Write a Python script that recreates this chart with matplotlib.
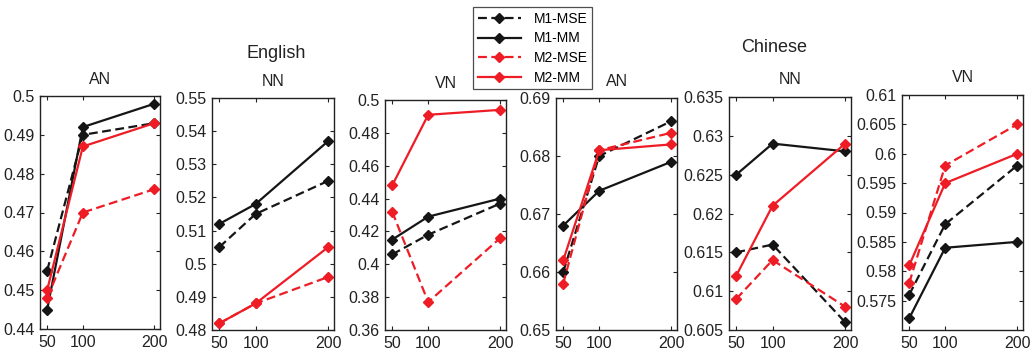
import matplotlib
matplotlib.use("Agg")
import matplotlib.pyplot as plt

plt.rcParams['font.family'] = ['Liberation Sans', 'DejaVu Sans']

x_vals = [50, 100, 200]
series_labels = ["M1-MSE", "M1-MM", "M2-MSE", "M2-MM"]
panel_titles = ["AN", "NN", "VN", "AN", "NN", "VN"]
group_titles = ["English", "Chinese"]

# English
en_an = {"M1-MSE": [0.455, 0.490, 0.493], "M1-MM": [0.445, 0.492, 0.498],
         "M2-MSE": [0.448, 0.470, 0.476], "M2-MM": [0.450, 0.487, 0.493]}
en_nn = {"M1-MSE": [0.505, 0.515, 0.525], "M1-MM": [0.512, 0.518, 0.537],
         "M2-MSE": [0.482, 0.488, 0.496], "M2-MM": [0.482, 0.488, 0.505]}
en_vn = {"M1-MSE": [0.406, 0.418, 0.437], "M1-MM": [0.415, 0.429, 0.440],
         "M2-MSE": [0.432, 0.377, 0.416], "M2-MM": [0.448, 0.491, 0.494]}
# Chinese
zh_an = {"M1-MSE": [0.660, 0.680, 0.686], "M1-MM": [0.668, 0.674, 0.679],
         "M2-MSE": [0.658, 0.681, 0.684], "M2-MM": [0.662, 0.681, 0.682]}
zh_nn = {"M1-MSE": [0.615, 0.616, 0.606], "M1-MM": [0.625, 0.629, 0.628],
         "M2-MSE": [0.609, 0.614, 0.608], "M2-MM": [0.612, 0.621, 0.629]}
zh_vn = {"M1-MSE": [0.576, 0.588, 0.598], "M1-MM": [0.572, 0.584, 0.585],
         "M2-MSE": [0.578, 0.598, 0.605], "M2-MM": [0.581, 0.595, 0.600]}

panels = [en_an, en_nn, en_vn, zh_an, zh_nn, zh_vn]
ylims = [(0.44, 0.50), (0.48, 0.55), (0.36, 0.50), (0.65, 0.69), (0.605, 0.635), (0.57, 0.61)]
yticks = [
    [0.44, 0.45, 0.46, 0.47, 0.48, 0.49, 0.50],
    [0.48, 0.49, 0.50, 0.51, 0.52, 0.53, 0.54, 0.55],
    [0.36, 0.38, 0.40, 0.42, 0.44, 0.46, 0.48, 0.50],
    [0.65, 0.66, 0.67, 0.68, 0.69],
    [0.605, 0.61, 0.615, 0.62, 0.625, 0.63, 0.635],
    [0.575, 0.58, 0.585, 0.59, 0.595, 0.60, 0.605, 0.61],
]
ytick_labels = [
    ["0.44", "0.45", "0.46", "0.47", "0.48", "0.49", "0.5"],
    ["0.48", "0.49", "0.5", "0.51", "0.52", "0.53", "0.54", "0.55"],
    ["0.36", "0.38", "0.4", "0.42", "0.44", "0.46", "0.48", "0.5"],
    ["0.65", "0.66", "0.67", "0.68", "0.69"],
    ["0.605", "0.61", "0.615", "0.62", "0.625", "0.63", "0.635"],
    ["0.575", "0.58", "0.585", "0.59", "0.595", "0.6", "0.605", "0.61"],
]

styles = {
    "M1-MSE": dict(color="#151515", linestyle=(0, (4, 2))),
    "M1-MM": dict(color="#151515", linestyle="-"),
    "M2-MSE": dict(color="#ee1c25", linestyle=(0, (4, 2))),
    "M2-MM": dict(color="#ee1c25", linestyle="-"),
}

W, H = 1036, 356
# pixel boxes (left, right, top, bottom)
boxes = [(40, 160, 96, 329), (212, 334, 98, 330), (385, 506, 100, 330),
         (556, 677, 98, 330), (729, 851, 97, 330), (902, 1023, 95, 330)]

fig = plt.figure(figsize=(W / 100, H / 100), dpi=100)
axes = []
for i, (l, r, t, b) in enumerate(boxes):
    ax = fig.add_axes([l / W, 1 - b / H, (r - l) / W, (b - t) / H])
    axes.append(ax)
    data = panels[i]
    for name in series_labels:
        ax.plot(x_vals, data[name], marker="D", markersize=5.5, linewidth=1.6,
                label=name, **styles[name])
    ax.set_xlim(40, 208)
    ax.set_ylim(*ylims[i])
    ax.set_xticks(x_vals)
    ax.set_xticklabels([str(v) for v in x_vals])
    ax.set_yticks(yticks[i])
    ax.set_yticklabels(ytick_labels[i])
    ax.tick_params(direction="in", top=True, right=True, labelsize=11.5,
                   length=3, width=0.8, colors="#222222", pad=4)
    for s in ax.spines.values():
        s.set_linewidth(1.0)
        s.set_color("#222222")
    ax.set_title(panel_titles[i], fontsize=11.5, pad=9, color="#222222")

fig.text(276 / W, 1 - 53 / H, group_titles[0], ha="center", va="center", fontsize=13, color="#222222")
fig.text(774 / W, 1 - 48 / H, group_titles[1], ha="center", va="center", fontsize=13, color="#222222")

handles, labels = axes[0].get_legend_handles_labels()
leg = fig.legend(handles, labels, loc="upper left",
                 bbox_to_anchor=(473 / W, 1 - 7 / H), fontsize=10,
                 handlelength=3.1, frameon=True, fancybox=False,
                 borderpad=0.35, labelspacing=0.4, handletextpad=0.9,
                 borderaxespad=0)
leg.get_frame().set_edgecolor("#222222")
leg.get_frame().set_linewidth(0.9)

fig.savefig("out.png", dpi=100)
